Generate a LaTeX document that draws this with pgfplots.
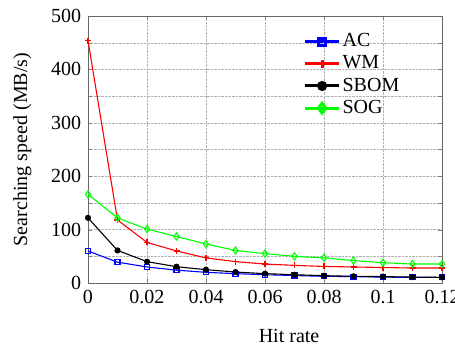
\documentclass[border=0pt]{standalone}
\usepackage{fontspec}
\setmainfont{Liberation Serif}
\usepackage{pgfplots}
\pgfplotsset{compat=1.18}
\begin{document}
\fontsize{20bp}{24bp}\selectfont
\begin{tikzpicture}
\useasboundingbox (-88bp,-64bp) rectangle (367bp,283bp);
\begin{axis}[
  scale only axis, width=354bp, height=267bp,
  xmin=0, xmax=0.12, ymin=0, ymax=500,
  xtick={0,0.02,0.04,0.06,0.08,0.1,0.12},
  xticklabels={0,0.02,0.04,0.06,0.08,0.1,0.12},
  ytick={0,100,200,300,400,500},
  minor ytick={50,150,250,350,450},
  minor xtick={},
  grid=both,
  xminorgrids=false,
  grid style={densely dotted, gray!60},
  major grid style={densely dotted, gray!60},
  minor grid style={densely dotted, gray!60},
  tick align=inside, major tick length=4bp, minor tick length=4bp,
  axis line style={gray!80!black},
  /pgf/number format/assume math mode=true,
  tick label style={font=\fontsize{20bp}{24bp}\selectfont},
  label style={font=\fontsize{20bp}{24bp}\selectfont},
  xlabel={Hit rate},
  ylabel={Searching speed (MB/s)},
  xlabel style={at={(axis description cs:0.568,-0.2247)}, anchor=base},
  ylabel style={at={(axis description cs:-0.1723,0.5)}, anchor=base},
  legend style={at={(0.6,0.95)}, anchor=north west, draw=none, fill=none,
    font=\fontsize{20bp}{24bp}\selectfont, row sep=2bp},
  legend cell align=left,
  legend image code/.code={
    \draw[#1, line width=3bp, mark repeat=2, mark phase=2, mark options={scale=1.4}] plot coordinates {(0cm,0cm) (0.6cm,0cm) (1.2cm,0cm)};
  },
]
\addplot[blue, line width=1.1bp, mark=square, mark size=2.5bp, mark options={solid}] coordinates {
(0,60) (0.01,39) (0.02,30) (0.03,24) (0.04,20) (0.05,17.5) (0.06,15.5) (0.07,14) (0.08,12.5) (0.09,12) (0.1,11) (0.11,10.6) (0.12,10.6)};
\addlegendentry{AC}
\addplot[red, line width=1.1bp, mark=+, mark size=3bp] coordinates {
(0,454) (0.01,118) (0.02,76) (0.03,60) (0.04,47) (0.05,40) (0.06,35.5) (0.07,33) (0.08,31) (0.09,30) (0.1,29) (0.11,28) (0.12,28)};
\addlegendentry{WM}
\addplot[black, line width=1.1bp, mark=*, mark size=2.5bp] coordinates {
(0,122) (0.01,61) (0.02,40) (0.03,30.5) (0.04,25) (0.05,20.5) (0.06,17.5) (0.07,15.5) (0.08,13.7) (0.09,12.5) (0.1,12) (0.11,11) (0.12,10.6)};
\addlegendentry{SBOM}
\addplot[green, line width=1.1bp, mark=diamond, mark size=3.5bp] coordinates {
(0,166) (0.01,122) (0.02,101) (0.03,87) (0.04,73) (0.05,61) (0.06,55) (0.07,50) (0.08,47) (0.09,42) (0.1,38) (0.11,35.5) (0.12,35.5)};
\addlegendentry{SOG}
\end{axis}
\end{tikzpicture}
\end{document}
